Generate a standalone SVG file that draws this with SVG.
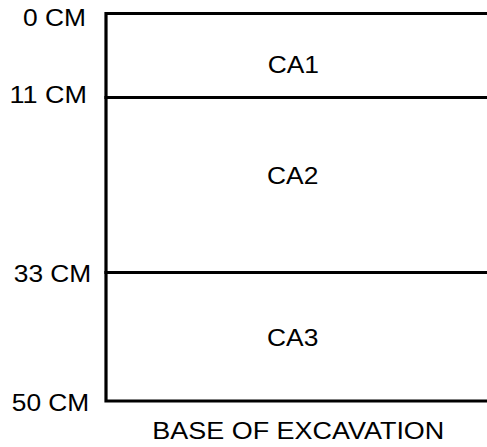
<svg xmlns="http://www.w3.org/2000/svg" width="487" height="447" viewBox="0 0 487 447">
  <style>
    .frame { stroke: #000; stroke-width: 3.2; fill: none; stroke-linecap: square; }
    .lbl { font-family: "Liberation Sans", Arial, sans-serif; font-size: 23.5px; fill: #000; }
  </style>
  <rect x="0" y="0" width="487" height="447" fill="#fff"/>

  <!-- section frame and layer boundaries -->
  <g id="connectors">
    <path class="frame" d="M106,13.5 H487 M106,13.5 V401 H487"/>
    <line class="frame" x1="106" y1="97.5" x2="487" y2="97.5"/>
    <line class="frame" x1="106" y1="272.5" x2="487" y2="272.5"/>
  </g>

  <!-- depth marks -->
  <g id="depth-0">
    <text class="lbl" x="86" y="26" text-anchor="end" textLength="63" lengthAdjust="spacingAndGlyphs">0 CM</text>
  </g>
  <g id="depth-11">
    <text class="lbl" x="87" y="102.5" text-anchor="end" textLength="77.5" lengthAdjust="spacingAndGlyphs">11 CM</text>
  </g>
  <g id="depth-33">
    <text class="lbl" x="91.3" y="282" text-anchor="end" textLength="77.5" lengthAdjust="spacingAndGlyphs">33 CM</text>
  </g>
  <g id="depth-50">
    <text class="lbl" x="89.3" y="411" text-anchor="end" textLength="77.5" lengthAdjust="spacingAndGlyphs">50 CM</text>
  </g>

  <!-- layers -->
  <g id="CA1">
    <text class="lbl" x="267.7" y="73" textLength="51.3" lengthAdjust="spacingAndGlyphs">CA1</text>
  </g>
  <g id="CA2">
    <text class="lbl" x="267" y="184" textLength="51.3" lengthAdjust="spacingAndGlyphs">CA2</text>
  </g>
  <g id="CA3">
    <text class="lbl" x="267" y="345.5" textLength="51.3" lengthAdjust="spacingAndGlyphs">CA3</text>
  </g>

  <g id="base">
    <text class="lbl" x="152.3" y="439" textLength="292" lengthAdjust="spacingAndGlyphs">BASE OF EXCAVATION</text>
  </g>
</svg>
